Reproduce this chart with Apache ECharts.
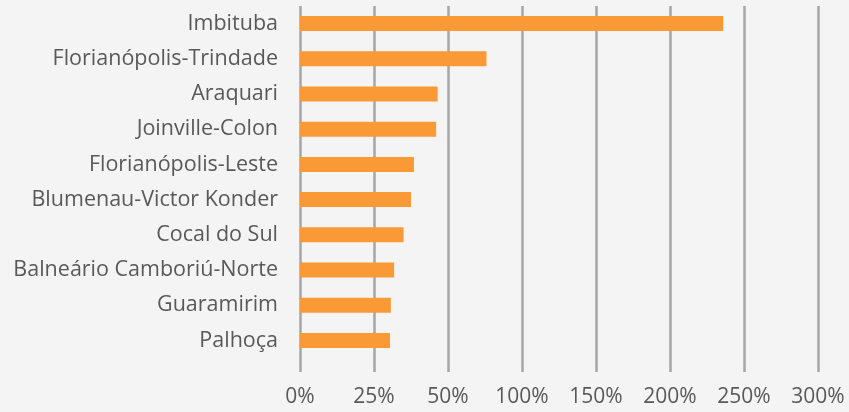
<!DOCTYPE html>
<html>
<head>
<meta charset="utf-8">
<script src="https://cdn.jsdelivr.net/npm/echarts@6/dist/echarts.min.js"></script>
<style>
    html, body {margin: 0; padding: 0; background: #f4f4f4;}
    #chart {width: 849px; height: 412px;}
</style>
</head>
<body>
<div id="chart"></div>
<script>
    // categories (top to bottom) and values in %
    var cities = ["Imbituba", "Florianópolis-Trindade", "Araquari", "Joinville-Colon",
        "Florianópolis-Leste", "Blumenau-Victor Konder", "Cocal do Sul",
        "Balneário Camboriú-Norte", "Guaramirim", "Palhoça"];
    var values = [236, 76, 46.5, 46, 38.5, 37.5, 35, 31.8, 30.7, 30.4];
    // the axis ticks are evenly spaced but not evenly valued
    var tickValues = [0, 25, 50, 100, 150, 200, 250, 300];

    // percent -> position in tick units (piecewise between ticks)
    function toAxis(v) {
        for (var i = 0; i < tickValues.length - 1; i++) {
            if (v <= tickValues[i + 1]) {
                return i + (v - tickValues[i]) / (tickValues[i + 1] - tickValues[i]);
            }
        }
        return tickValues.length - 1;
    }

    var chart = echarts.init(document.getElementById("chart"));
    var textColor = "#595959";
    var font = "'Open Sans', sans-serif";

    var option = {
        backgroundColor: "#f4f4f4",
        animation: false,
        grid: [
            {left: 300, right: 31, top: 6, height: 352},   // bars
            {left: 300, right: 31, top: 6, bottom: 40}     // grid lines + labels
        ],
        xAxis: [
            {
                gridIndex: 0, type: "value", min: 0, max: 7, interval: 1,
                axisLine: {show: false}, axisTick: {show: false},
                axisLabel: {show: false}, splitLine: {show: false}
            },
            {
                gridIndex: 1, type: "value", min: 0, max: 7, interval: 1,
                axisLine: {show: false}, axisTick: {show: false},
                splitLine: {show: true, lineStyle: {color: "#a6a6a6", width: 2.5}},
                axisLabel: {
                    color: textColor, fontSize: 21, fontFamily: font, margin: 15,
                    formatter: function (v) { return tickValues[v] + "%"; }
                }
            }
        ],
        yAxis: [
            {
                gridIndex: 0, type: "category", data: cities, inverse: true,
                axisLine: {show: false}, axisTick: {show: false},
                axisLabel: {color: textColor, fontSize: 21.5, fontFamily: font, margin: 22}
            },
            {
                gridIndex: 1, type: "category", data: cities, show: false
            }
        ],
        series: [
            {
                type: "bar",
                xAxisIndex: 0, yAxisIndex: 0,
                barWidth: 15,
                itemStyle: {color: "#f99a36"},
                data: values.map(toAxis)
            }
        ]
    };
    chart.setOption(option);
</script>
</body>
</html>
